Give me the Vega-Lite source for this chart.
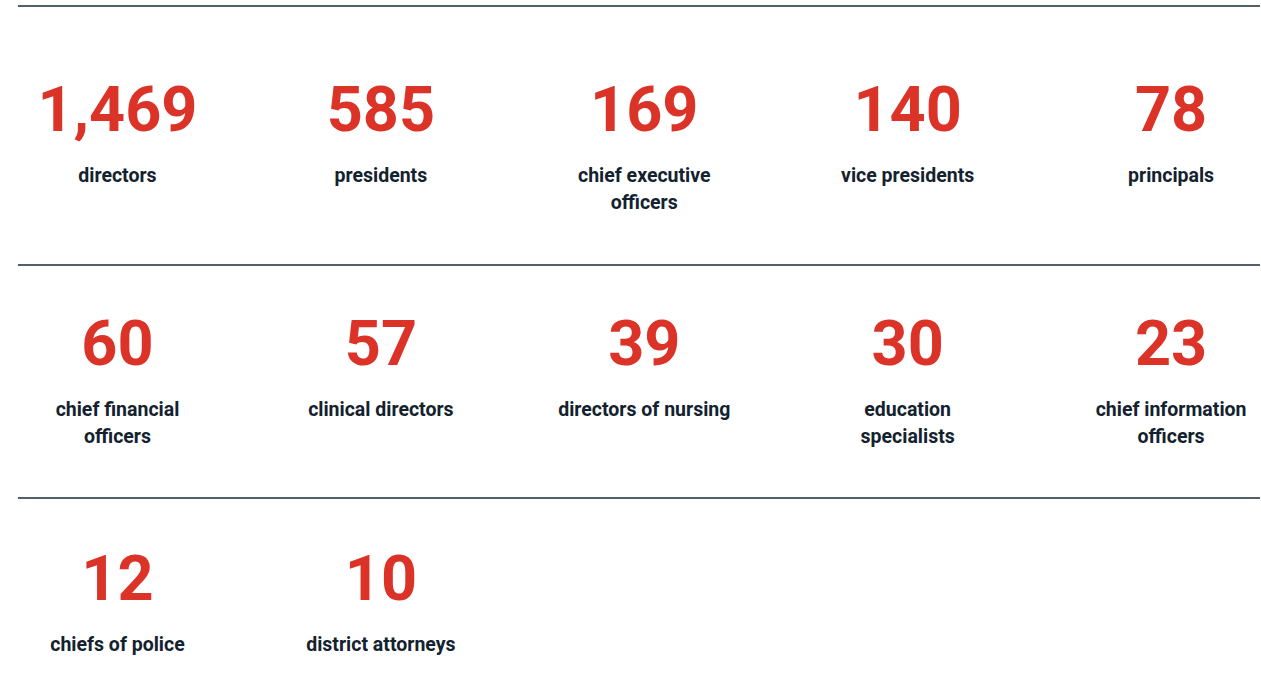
{
  "$schema": "https://vega.github.io/schema/vega-lite/v6.json",
  "width": 1261,
  "height": 677,
  "autosize": {"type": "fit", "contains": "padding"},
  "padding": 0,
  "background": "white",
  "config": {"view": {"stroke": null}},
  "datasets": {
    "items": [
      {"col": 0, "row": 0, "count": 1469, "label": "directors"},
      {"col": 1, "row": 0, "count": 585, "label": "presidents"},
      {"col": 2, "row": 0, "count": 169, "label": "chief executive\nofficers"},
      {"col": 3, "row": 0, "count": 140, "label": "vice presidents"},
      {"col": 4, "row": 0, "count": 78, "label": "principals"},
      {"col": 0, "row": 1, "count": 60, "label": "chief financial\nofficers"},
      {"col": 1, "row": 1, "count": 57, "label": "clinical directors"},
      {"col": 2, "row": 1, "count": 39, "label": "directors of nursing"},
      {"col": 3, "row": 1, "count": 30, "label": "education\nspecialists"},
      {"col": 4, "row": 1, "count": 23, "label": "chief information\nofficers"},
      {"col": 0, "row": 2, "count": 12, "label": "chiefs of police"},
      {"col": 1, "row": 2, "count": 10, "label": "district attorneys"}
    ],
    "rules": [
      {"start": -0.378, "end": 4.3376, "pos": -0.533},
      {"start": -0.378, "end": 4.3376, "pos": 0.5714},
      {"start": -0.378, "end": 4.3376, "pos": 1.565}
    ]
  },
  "layer": [
    {
      "data": {"name": "rules"},
      "mark": {"type": "rule", "color": "#1a2a36", "strokeWidth": 1.4},
      "encoding": {
        "x": {"field": "start", "type": "quantitative", "scale": {"domain": [-0.446, 4.3376], "nice": false, "zero": false}, "axis": null},
        "x2": {"field": "end"},
        "y": {"field": "pos", "type": "quantitative", "scale": {"domain": [-0.5586, 2.3284], "nice": false, "zero": false, "reverse": true}, "axis": null}
      }
    },
    {
      "data": {"name": "items"},
      "mark": {"type": "text", "font": "Roboto", "fontWeight": "bold", "fontSize": 63, "color": "#db3327", "align": "center", "baseline": "alphabetic"},
      "encoding": {
        "x": {"field": "col", "type": "quantitative", "axis": null},
        "y": {"field": "row", "type": "quantitative", "axis": null},
        "text": {"field": "count", "type": "quantitative", "format": ",d"}
      }
    },
    {
      "data": {"name": "items"},
      "mark": {"type": "text", "font": "Roboto", "fontWeight": "bold", "fontSize": 19.5, "color": "#13222e", "align": "center", "baseline": "alphabetic", "dy": 51, "lineBreak": "\n", "lineHeight": 27},
      "encoding": {
        "x": {"field": "col", "type": "quantitative", "axis": null},
        "y": {"field": "row", "type": "quantitative", "axis": null},
        "text": {"field": "label", "type": "nominal"}
      }
    }
  ]
}
